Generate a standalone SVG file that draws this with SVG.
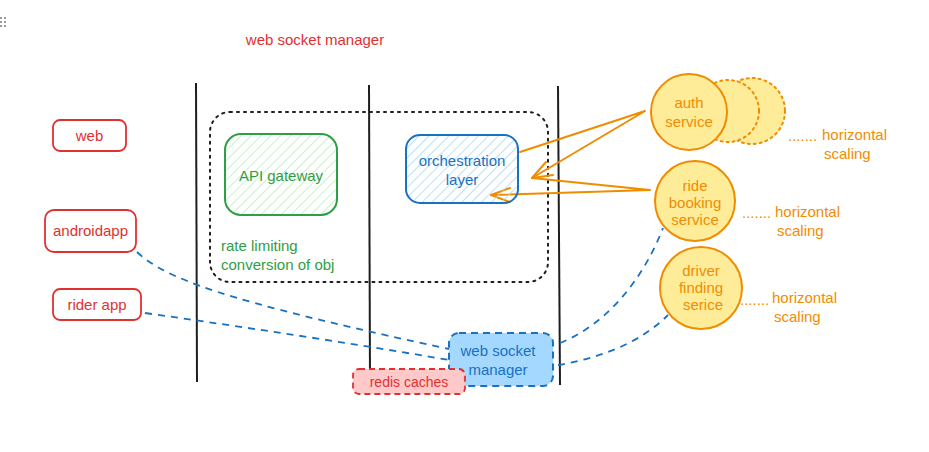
<svg xmlns="http://www.w3.org/2000/svg" width="929" height="452" viewBox="0 0 929 452">
<defs>
<pattern id="hatchG" patternUnits="userSpaceOnUse" width="7" height="7" patternTransform="rotate(45)">
<line x1="0" y1="0" x2="0" y2="7" stroke="#b2f2bb" stroke-width="1.6"/>
</pattern>
<pattern id="hatchB" patternUnits="userSpaceOnUse" width="7" height="7" patternTransform="rotate(45)">
<line x1="0" y1="0" x2="0" y2="7" stroke="#a5d8ff" stroke-width="1.6"/>
</pattern>
</defs>
<style>
text{font-family:"Liberation Sans",Arial,sans-serif;font-size:15px;text-anchor:middle}
.red{fill:#e03131}.green{fill:#2f9e44}.blue{fill:#1971c2}.orange{fill:#f08c00}
.rbox{fill:#fff;stroke:#e03131;stroke-width:1.8}
.circ{fill:#ffec99;stroke:#f08c00;stroke-width:2}
.dotc{fill:#ffec99;stroke:#f08c00;stroke-width:2;stroke-dasharray:2 4;stroke-linecap:round}
.vline{stroke:#1e1e1e;stroke-width:2;fill:none}
.dash{fill:none;stroke:#1971c2;stroke-width:1.8;stroke-dasharray:7 6}
.arr{fill:none;stroke:#f08c00;stroke-width:2;stroke-linejoin:round;stroke-linecap:round}
.l{text-anchor:start}
</style>
<rect width="929" height="452" fill="#fff"/>
<g id="grip" fill="#9a9a9a">
<rect x="0" y="17" width="2" height="2"/><rect x="4" y="17" width="2" height="2"/>
<rect x="0" y="21" width="2" height="2"/><rect x="4" y="21" width="2" height="2"/>
<rect x="0" y="25" width="2" height="2"/><rect x="4" y="25" width="2" height="2"/>
</g>
<g id="title"><text x="315" y="45" class="red" style="font-size:15px">web socket manager</text></g>
<g id="dividers">
<line x1="196" y1="83" x2="197" y2="382" class="vline"/>
<line x1="369" y1="85" x2="370" y2="385" class="vline"/>
<line x1="558" y1="86" x2="560" y2="385" class="vline"/>
</g>
<g id="boundary">
<rect x="210" y="112" width="338" height="170" rx="20" fill="none" stroke="#1e1e1e" stroke-width="2" stroke-dasharray="2 5" stroke-linecap="round"/>
<text x="221" y="251" class="green l">rate limiting</text>
<text x="221" y="270" class="green l">conversion of obj</text>
</g>
<g id="connectors">
<path d="M137,252 C165,278 220,300 449,349" class="dash"/>
<path d="M145,313 C250,328 350,343 449,360" class="dash"/>
<path d="M560,343 C605,325 642,282 663,228" class="dash"/>
<path d="M558,365 C600,358 640,343 668,315" class="dash"/>
<path d="M520,152 L645,111 L532,178" class="arr"/>
<path d="M546,162 L532,178 L553,175" class="arr"/>
<path d="M532,178 L650,190 L491,195" class="arr"/>
<path d="M510,188 L491,195 L510,202" class="arr"/>
</g>
<g id="web"><rect x="53" y="120" width="73" height="31" rx="7" class="rbox"/><text x="89.5" y="141" class="red">web</text></g>
<g id="androidapp"><rect x="45" y="210" width="91" height="42" rx="9" class="rbox"/><text x="90.5" y="236" class="red">androidapp</text></g>
<g id="riderapp"><rect x="53" y="289" width="88" height="31" rx="7" class="rbox"/><text x="97" y="310" class="red">rider app</text></g>
<g id="apigateway"><rect x="225" y="134" width="112" height="81" rx="16" fill="url(#hatchG)" stroke="#2f9e44" stroke-width="2"/><text x="281" y="181" class="green">API gateway</text></g>
<g id="orchestration"><rect x="406" y="135" width="112" height="68" rx="14" fill="url(#hatchB)" stroke="#1971c2" stroke-width="2"/><text x="462" y="166" class="blue">orchestration</text><text x="462" y="185" class="blue">layer</text></g>
<g id="wsmanager"><rect x="449" y="333" width="104" height="53" rx="10" fill="#a5d8ff" stroke="#1971c2" stroke-width="2" stroke-dasharray="7 5"/><text x="498" y="356" class="blue">web socket</text><text x="498" y="375" class="blue">manager</text></g>
<g id="redis"><rect x="353" y="369" width="112" height="25" rx="6" fill="#ffc9c9" stroke="#e03131" stroke-width="1.8" stroke-dasharray="6 4"/><text x="409" y="387" class="red" style="font-size:14px">redis caches</text></g>
<g id="auth">
<circle cx="752" cy="111" r="33" class="dotc"/>
<circle cx="728" cy="111" r="31" class="dotc"/>
<circle cx="689" cy="112" r="38" class="circ"/>
<text x="689" y="108" class="orange">auth</text><text x="689" y="127" class="orange">service</text>
</g>
<g id="ridebooking"><circle cx="695" cy="201" r="40" class="circ"/><text x="695" y="191" class="orange">ride</text><text x="695" y="208" class="orange">booking</text><text x="695" y="225" class="orange">service</text></g>
<g id="driverfinding"><circle cx="701" cy="288" r="41" class="circ"/><text x="701" y="276" class="orange">driver</text><text x="701" y="293" class="orange">finding</text><text x="703" y="310" class="orange">serice</text></g>
<g id="scaling1"><text x="788" y="141" class="orange l">.......</text><text x="822" y="140" class="orange l">horizontal</text><text x="824" y="159" class="orange l">scaling</text></g>
<g id="scaling2"><text x="742" y="218" class="orange l">.......</text><text x="775" y="217" class="orange l">horizontal</text><text x="777" y="236" class="orange l">scaling</text></g>
<g id="scaling3"><text x="740" y="305" class="orange l">.......</text><text x="772" y="303" class="orange l">horizontal</text><text x="774" y="322" class="orange l">scaling</text></g>
</svg>
